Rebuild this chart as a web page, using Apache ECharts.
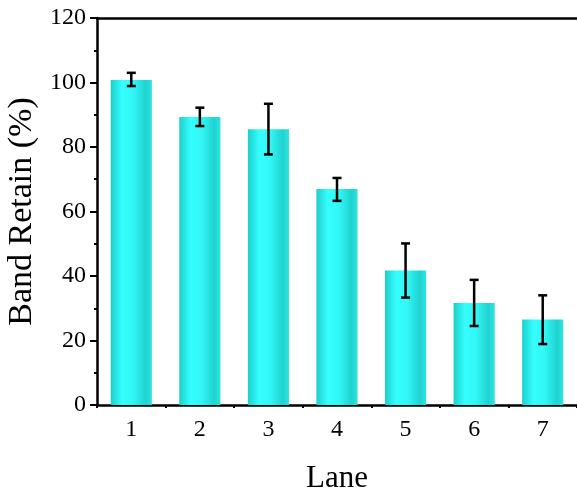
<!DOCTYPE html>
<html>
<head>
<meta charset="utf-8">
<script src="https://cdn.jsdelivr.net/npm/echarts@6/dist/echarts.min.js"></script>
<style>
  html, body { margin: 0; padding: 0; background: #fff; }
  #chart-container { width: 577px; height: 498px; }
</style>
</head>
<body>
<div id="chart-container"></div>
<script>
var dom = document.getElementById("chart-container");
var myChart = echarts.init(dom, null, { renderer: "canvas" });

const lanes = ["1", "2", "3", "4", "5", "6", "7"];
const retain = [100.8, 89.3, 85.5, 67.0, 41.7, 31.6, 26.5];
const errLow = [98.9, 86.5, 77.7, 63.3, 33.3, 24.5, 18.9];
const errHigh = [103.0, 92.2, 93.4, 70.4, 50.1, 38.8, 34.0];
const yTicks = [0, 20, 40, 60, 80, 100, 120];

const fontFamily = '"Liberation Serif", "Times New Roman", serif';
const errData = lanes.map(function (l, i) {
  return [i, errLow[i], errHigh[i]];
});

var barColor = new echarts.graphic.LinearGradient(0, 0, 1, 0, [
  { offset: 0, color: "#1ccfcb" },
  { offset: 0.28, color: "#36ffff" },
  { offset: 0.55, color: "#31f6f6" },
  { offset: 0.85, color: "#1fd3cf" },
  { offset: 1, color: "#2ee4e2" },
]);

var option = {
  animation: false,
  backgroundColor: "#fff",
  grid: { left: 97, right: 0, top: 18, bottom: 93, containLabel: false, outerBoundsMode: "none" },
  xAxis: [
    {
      type: "category",
      data: lanes,
      position: "bottom",
      name: "Lane",
      nameLocation: "middle",
      nameGap: 58,
      nameTextStyle: { fontFamily: fontFamily, fontSize: 31, color: "#000" },
      axisLine: { lineStyle: { color: "#000", width: 2.5 } },
      axisTick: { alignWithLabel: true, length: 7, lineStyle: { color: "#000", width: 2 } },
      axisLabel: { fontFamily: fontFamily, fontSize: 24, color: "#000", margin: 13 },
    },
    {
      type: "category",
      data: lanes,
      position: "bottom",
      axisLine: { show: false },
      axisTick: { show: true, length: 3, lineStyle: { color: "#000", width: 2 } },
      axisLabel: { show: false },
    },
    {
      type: "category",
      data: lanes,
      position: "top",
      axisLine: { lineStyle: { color: "#000", width: 2.5 } },
      axisTick: { show: false },
      axisLabel: { show: false },
    },
  ],
  yAxis: {
    type: "value",
    min: yTicks[0],
    max: yTicks[yTicks.length - 1],
    interval: 20,
    name: "Band Retain (%)",
    nameLocation: "middle",
    nameGap: 51,
    nameTextStyle: { fontFamily: fontFamily, fontSize: 34, color: "#000" },
    axisLine: { show: true, lineStyle: { color: "#000", width: 2.5 } },
    axisTick: { show: true, length: 7, lineStyle: { color: "#000", width: 2 } },
    minorTick: { show: true, splitNumber: 2, length: 3, lineStyle: { color: "#000", width: 2 } },
    splitLine: { show: false },
    axisLabel: { fontFamily: fontFamily, fontSize: 24, color: "#000", margin: 11 },
  },
  series: [
    {
      type: "bar",
      data: retain,
      barWidth: "60%",
      itemStyle: { color: barColor },
    },
    {
      type: "custom",
      data: errData,
      z: 10,
      renderItem: function (params, api) {
        var x = api.value(0);
        var lo = api.coord([x, api.value(1)]);
        var hi = api.coord([x, api.value(2)]);
        var cap = 4.5;
        var style = { stroke: "#000", lineWidth: 2.5 };
        return {
          type: "group",
          children: [
            { type: "line", shape: { x1: hi[0], y1: hi[1], x2: lo[0], y2: lo[1] }, style: style },
            { type: "line", shape: { x1: hi[0] - cap, y1: hi[1], x2: hi[0] + cap, y2: hi[1] }, style: style },
            { type: "line", shape: { x1: lo[0] - cap, y1: lo[1], x2: lo[0] + cap, y2: lo[1] }, style: style },
          ],
        };
      },
    },
  ],
};

myChart.setOption(option);
window.addEventListener("resize", myChart.resize);
</script>
</body>
</html>
